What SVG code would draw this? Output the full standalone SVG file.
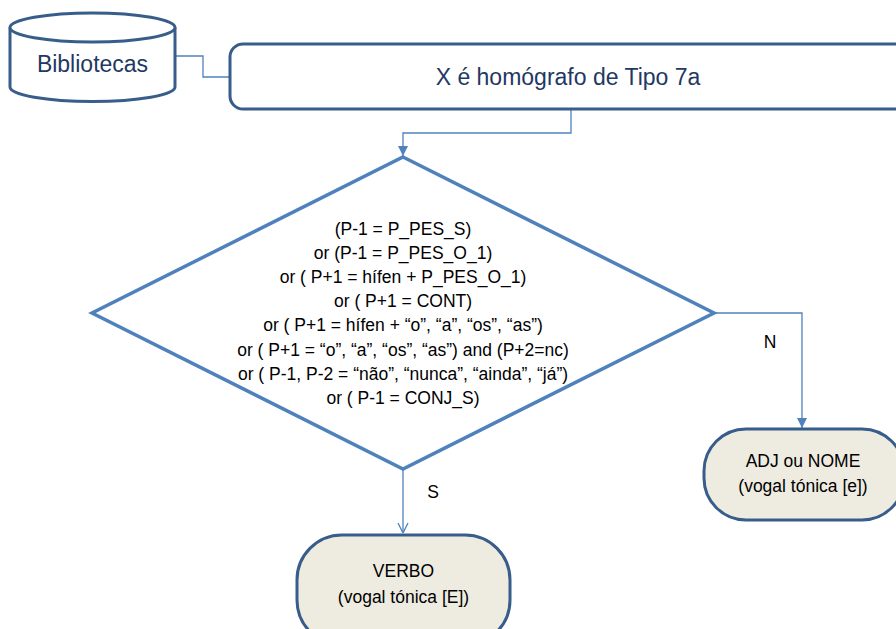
<svg xmlns="http://www.w3.org/2000/svg" width="896" height="629" viewBox="0 0 896 629">
<style>
text{font-family:"Liberation Sans",Arial,sans-serif;fill:#000;text-anchor:middle}
.big{font-size:23px;fill:#1F3864}
.sm{font-size:17.5px}
.node{fill:#fff;stroke:#385D8A;stroke-width:3}
.term{fill:#EEECE1;stroke:#385D8A;stroke-width:3}
.dia{fill:#fff;stroke:#4F81BD;stroke-width:3.5;stroke-linejoin:miter}
.conn{fill:none;stroke:#4F81BD;stroke-width:1.3}
</style>
<defs>
<marker id="arrF" viewBox="0 0 10 10" refX="10" refY="5" markerWidth="10" markerHeight="10" markerUnits="userSpaceOnUse" orient="auto">
<path d="M0,0 L10,5 L0,10 z" fill="#4F81BD"/>
</marker>
<marker id="arrO" viewBox="0 0 10 10" refX="10" refY="5" markerWidth="10" markerHeight="12" markerUnits="userSpaceOnUse" orient="auto">
<path d="M0,0 L10,5 L0,10" fill="none" stroke="#4F81BD" stroke-width="1.3"/>
</marker>
</defs>
<g id="connectors">
<path class="conn" d="M175,56 H203 V77 H230"/>
<path class="conn" d="M571,109 V133 H403 V156" marker-end="url(#arrF)"/>
<path class="conn" d="M714,313 H802 V428" marker-end="url(#arrF)"/>
<path class="conn" d="M403,469 V533" marker-end="url(#arrO)"/>
<text class="sm" x="770" y="348">N</text>
<text class="sm" x="433" y="498">S</text>
</g>
<g id="bibliotecas">
<path class="node" d="M10,27.5 V87 A82.5,14.5 0 0 0 175,87 V27.5"/>
<ellipse class="node" cx="92.5" cy="27.5" rx="82.5" ry="14.5"/>
<text class="big" x="92.5" y="72">Bibliotecas</text>
</g>
<g id="homografo">
<rect class="node" x="230" y="44" width="690" height="65" rx="13"/>
<text class="big" x="568" y="85">X é homógrafo de Tipo 7a</text>
</g>
<g id="decisao">
<path class="dia" d="M403,157 L714,313 L403,469 L92,313 Z"/>
<text class="sm" x="403" y="235">(P-1 = P_PES_S)</text>
<text class="sm" x="403" y="259">or (P-1 = P_PES_O_1)</text>
<text class="sm" x="403" y="283">or ( P+1 = hífen + P_PES_O_1)</text>
<text class="sm" x="403" y="307">or ( P+1 = CONT)</text>
<text class="sm" x="403" y="331">or ( P+1 = hífen + “o”, “a”, “os”, “as”)</text>
<text class="sm" x="403" y="356">or ( P+1 = “o”, “a”, “os”, “as”) and (P+2=nc)</text>
<text class="sm" x="403" y="380">or ( P-1, P-2 = “não”, “nunca”, “ainda”, “já”)</text>
<text class="sm" x="403" y="404">or ( P-1 = CONJ_S)</text>
</g>
<g id="adj-nome">
<rect class="term" x="704" y="429" width="200" height="91" rx="42"/>
<text class="sm" x="803" y="467">ADJ ou NOME</text>
<text class="sm" x="803" y="492">(vogal tónica [e])</text>
</g>
<g id="verbo">
<rect class="term" x="297" y="535" width="213" height="110" rx="45"/>
<text class="sm" x="403.5" y="577">VERBO</text>
<text class="sm" x="403.5" y="603">(vogal tónica [E])</text>
</g>
</svg>
